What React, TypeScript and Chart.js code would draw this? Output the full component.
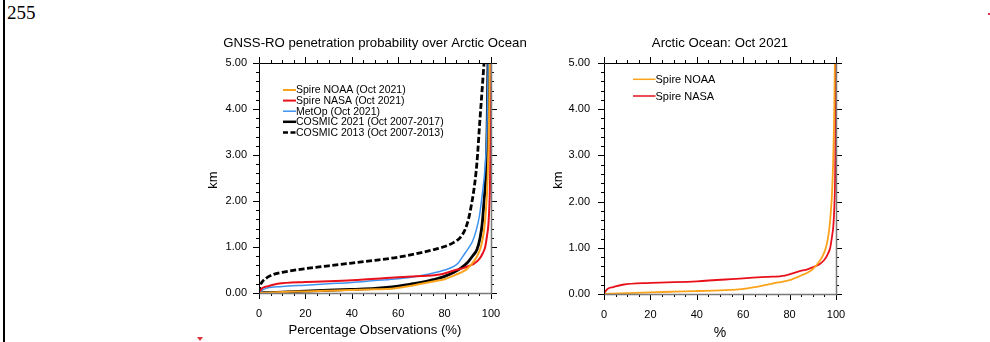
import React, { useEffect, useRef } from "react";
import { Chart, registerables } from "chart.js";

Chart.register(...registerables);

const FONT = "'Liberation Sans', Arial, Helvetica, sans-serif";

// ---- axis ticks ----
const xMajorStep = 20;
const yMajorStep = 1;

// ---- series (percentage observations vs. height km) ----
const noaaPct = [0, 10, 20, 30, 40, 50, 58, 65, 70, 75, 80, 85, 88, 90, 92, 94, 95.5, 96.5, 97.2, 97.8, 98.3, 98.8, 99.2, 99.5];
const noaaKm = [0, 0.02, 0.035, 0.05, 0.065, 0.08, 0.1, 0.15, 0.2, 0.25, 0.3, 0.4, 0.47, 0.54, 0.65, 0.8, 0.98, 1.2, 1.45, 1.8, 2.2, 2.9, 3.8, 5.0];

const nasaPct = [0, 0.5, 1.5, 4, 8, 20, 40, 60, 70, 78, 84, 88, 91, 93, 95, 96.5, 97.5, 98.3, 98.9, 99.3, 99.6, 99.75, 99.8];
const nasaKm = [0, 0.05, 0.11, 0.15, 0.2, 0.24, 0.275, 0.34, 0.37, 0.4, 0.49, 0.54, 0.6, 0.65, 0.74, 0.87, 1.0, 1.25, 1.5, 1.9, 2.5, 3.5, 5.0];

const metopPct = [0, 1, 3, 10, 20, 30, 40, 50, 60, 70, 80, 84, 86, 87.5, 89, 90.5, 92, 93.5, 95, 96.3, 97.4, 98.2, 98.8];
const metopKm = [0, 0.05, 0.1, 0.14, 0.17, 0.2, 0.23, 0.27, 0.31, 0.38, 0.5, 0.58, 0.66, 0.77, 0.88, 0.99, 1.12, 1.34, 1.67, 2.17, 2.7, 3.5, 5.0];

const cosmic21Pct = [0, 5, 10, 20, 30, 40, 50, 55, 60, 65, 70, 75, 80, 84, 87, 90, 92, 94, 95.3, 96.2, 97, 97.8, 98.3, 98.7];
const cosmic21Km = [0, 0.01, 0.02, 0.04, 0.06, 0.08, 0.1, 0.12, 0.15, 0.19, 0.23, 0.29, 0.36, 0.45, 0.54, 0.67, 0.8, 0.95, 1.2, 1.5, 2.0, 2.6, 3.5, 5.0];

const cosmic13Pct = [0, 0.5, 1.5, 3, 6, 10, 20, 30, 40, 50, 60, 70, 75, 80, 84, 87, 89, 90.5, 91.5, 92.5, 93.5, 94.2, 95, 96, 97];
const cosmic13Km = [0, 0.15, 0.25, 0.32, 0.4, 0.45, 0.53, 0.59, 0.65, 0.71, 0.78, 0.88, 0.94, 1.01, 1.1, 1.22, 1.4, 1.65, 1.9, 2.2, 2.6, 3.0, 3.6, 4.3, 5.0];

const NOAA_COLOR = "#fca31c";
const NASA_COLOR = "#e8111b";
const METOP_COLOR = "#3f93f0";
const BLACK = "#000000";

const pts = (xs: number[], ys: number[]) => xs.map((x, i) => ({ x, y: ys[i] }));

type Item = { label: string; color: string; width: number; dash?: number[] };

const decorPlugin = {
  id: "decor",
  afterDraw(chart: any, _args: any, o: any) {
    const { ctx, chartArea: a } = chart;
    const xs = chart.scales.x;
    const ys = chart.scales.y;
    ctx.save();
    // tick marks (outward, major + minor)
    ctx.lineWidth = 1;
    ctx.strokeStyle = "#000";
    ctx.beginPath();
    for (let i = 0; i <= 20; i++) {
      const v = i * 5;
      const L = v % xMajorStep === 0 ? 6 : 3;
      const px = Math.round(xs.getPixelForValue(v)) + 0.5;
      ctx.moveTo(px, a.top);
      ctx.lineTo(px, a.top - L);
      ctx.moveTo(px, a.bottom);
      ctx.lineTo(px, a.bottom + L);
    }
    for (let i = 0; i <= 25; i++) {
      const v = i * 0.2;
      const L = i % (5 * yMajorStep) === 0 ? 6 : 3;
      const py = Math.round(ys.getPixelForValue(v)) + 0.5;
      ctx.moveTo(a.left, py);
      ctx.lineTo(a.left - L, py);
      ctx.moveTo(a.right, py);
      ctx.lineTo(a.right + L, py);
    }
    ctx.stroke();
    // frame
    const l = Math.round(a.left) + 0.5;
    const t = Math.round(a.top) + 0.5;
    const r = Math.round(a.right) + 0.5;
    const b = Math.round(a.bottom) + 0.5;
    ctx.strokeStyle = "#000";
    ctx.beginPath();
    ctx.moveTo(l, b);
    ctx.lineTo(l, t);
    ctx.lineTo(r, t);
    ctx.stroke();
    ctx.strokeStyle = "#7a7a7a";
    ctx.lineWidth = 1.5;
    ctx.beginPath();
    ctx.moveTo(r, t);
    ctx.lineTo(r, b);
    ctx.lineTo(l, b);
    ctx.stroke();

    // titles
    const cx = (a.left + a.right) / 2;
    ctx.fillStyle = "#000";
    ctx.textAlign = "center";
    ctx.textBaseline = "alphabetic";
    ctx.font = `13.2px ${FONT}`;
    ctx.fillText(o.title, cx, 47);
    ctx.font = `${o.xTitleSize}px ${FONT}`;
    ctx.fillText(o.xTitle, cx, o.xTitleY);
    ctx.save();
    ctx.font = `13px ${FONT}`;
    ctx.translate(a.left - 42, 180);
    ctx.rotate(-Math.PI / 2);
    ctx.fillText("km", 0, 0);
    ctx.restore();

    // legend
    ctx.font = `${o.legendSize}px ${FONT}`;
    ctx.textAlign = "left";
    ctx.textBaseline = "middle";
    (o.items as Item[]).forEach((it, i) => {
      const y = a.top + o.legendTop + i * o.legendStep;
      ctx.strokeStyle = it.color;
      ctx.lineWidth = it.width;
      ctx.setLineDash(it.dash || []);
      ctx.beginPath();
      ctx.moveTo(a.left + o.lineX0, y);
      ctx.lineTo(a.left + o.lineX1, y);
      ctx.stroke();
      ctx.setLineDash([]);
      ctx.fillStyle = "#000";
      ctx.fillText(it.label, a.left + o.lineX1, y + 0.5);
    });
    ctx.restore();
  },
};

function makeConfig(datasets: any[], decor: any, area: { left: number; right: number; bottom: number }, yPad: number) {
  return {
    type: "line",
    data: { datasets },
    plugins: [decorPlugin],
    options: {
      animation: false,
      responsive: false,
      events: [],
      layout: { padding: { top: 63, right: area.right, left: 0, bottom: 0 } },
      elements: { point: { radius: 0 }, line: { cubicInterpolationMode: "monotone" } },
      plugins: { legend: { display: false }, title: { display: false }, tooltip: { enabled: false }, decor },
      scales: {
        x: {
          type: "linear",
          min: 0,
          max: 100,
          grid: { display: false, drawTicks: false },
          border: { display: false },
          ticks: { stepSize: xMajorStep, color: "#000", font: { size: 11, family: FONT }, padding: 14, maxRotation: 0 },
          afterFit: (s: any) => {
            s.height = area.bottom;
          },
        },
        y: {
          type: "linear",
          min: 0,
          max: 5,
          grid: { display: false, drawTicks: false },
          border: { display: false },
          ticks: {
            stepSize: yMajorStep,
            color: "#000",
            font: { size: 11, family: FONT },
            padding: yPad,
            callback: (v: any) => Number(v).toFixed(2),
          },
          afterFit: (s: any) => {
            s.width = area.left;
          },
        },
      },
    },
  };
}

function line(data: any[], color: string, width: number, dash?: number[]) {
  return { data: data, borderColor: color, borderWidth: width, borderDash: dash || [], fill: false, pointRadius: 0 };
}

export default function App() {
  const leftRef = useRef<HTMLCanvasElement>(null);
  const rightRef = useRef<HTMLCanvasElement>(null);

  useEffect(() => {
    const leftItems: Item[] = [
      { label: "Spire NOAA (Oct 2021)", color: NOAA_COLOR, width: 2 },
      { label: "Spire NASA (Oct 2021)", color: NASA_COLOR, width: 2 },
      { label: "MetOp (Oct 2021)", color: METOP_COLOR, width: 1.5 },
      { label: "COSMIC 2021 (Oct 2007-2017)", color: BLACK, width: 2.5 },
      { label: "COSMIC 2013 (Oct 2007-2013)", color: BLACK, width: 2.5, dash: [5, 2.5] },
    ];
    const leftDatasets = [
      line(pts(noaaPct, noaaKm), NOAA_COLOR, 2),
      line(pts(nasaPct, nasaKm), NASA_COLOR, 2),
      line(pts(metopPct, metopKm), METOP_COLOR, 1.5),
      line(pts(cosmic21Pct, cosmic21Km), BLACK, 2.8),
      line(pts(cosmic13Pct, cosmic13Km), BLACK, 2.8, [6, 2.5]),
    ];
    const rightItems: Item[] = [
      { label: "Spire NOAA", color: NOAA_COLOR, width: 1.5 },
      { label: "Spire NASA", color: NASA_COLOR, width: 1.5 },
    ];
    const rightDatasets = [
      line(pts(noaaPct, noaaKm), NOAA_COLOR, 1.8),
      line(pts(nasaPct, nasaKm), NASA_COLOR, 1.8),
    ];

    const c1 = new Chart(
      leftRef.current as HTMLCanvasElement,
      makeConfig(
        leftDatasets,
        {
          title: "GNSS-RO penetration probability over Arctic Ocean",
          xTitle: "Percentage Observations (%)",
          xTitleSize: 13.2,
          xTitleY: 334,
          items: leftItems,
          legendSize: 10.5,
          legendTop: 27,
          legendStep: 10.6,
          lineX0: 24,
          lineX1: 37,
        },
        { left: 79, right: 59, bottom: 49 },
        12
      ) as any
    );
    const c2 = new Chart(
      rightRef.current as HTMLCanvasElement,
      makeConfig(
        rightDatasets,
        {
          title: "Arctic Ocean: Oct 2021",
          xTitle: "%",
          xTitleSize: 14,
          xTitleY: 337,
          items: rightItems,
          legendSize: 11,
          legendTop: 16.3,
          legendStep: 16.7,
          lineX0: 29,
          lineX1: 51.5,
        },
        { left: 74, right: 64, bottom: 48 },
        14
      ) as any
    );
    return () => {
      c1.destroy();
      c2.destroy();
    };
  }, []);

  return (
    <div style={{ position: "absolute", left: 0, top: 0, width: 990, height: 342, background: "#fff", overflow: "hidden" }}>
      <div style={{ position: "absolute", left: 2.5, top: 0, width: 2, height: 342, background: "#000" }} />
      <div style={{ position: "absolute", left: 7, top: 2, fontFamily: "'Liberation Serif', 'Times New Roman', serif", fontSize: 19, lineHeight: "22px", color: "#000" }}>255</div>
      <canvas ref={leftRef} width={370} height={342} style={{ position: "absolute", left: 180, top: 0, width: 370, height: 342 }} />
      <canvas ref={rightRef} width={370} height={342} style={{ position: "absolute", left: 530, top: 0, width: 370, height: 342 }} />
      <div style={{ position: "absolute", left: 197, top: 337, width: 0, height: 0, borderLeft: "3.5px solid transparent", borderRight: "3.5px solid transparent", borderTop: "4px solid #d9343e" }} />
      <div style={{ position: "absolute", left: 988, top: 13, width: 2, height: 2, background: "#e0304a" }} />
    </div>
  );
}
